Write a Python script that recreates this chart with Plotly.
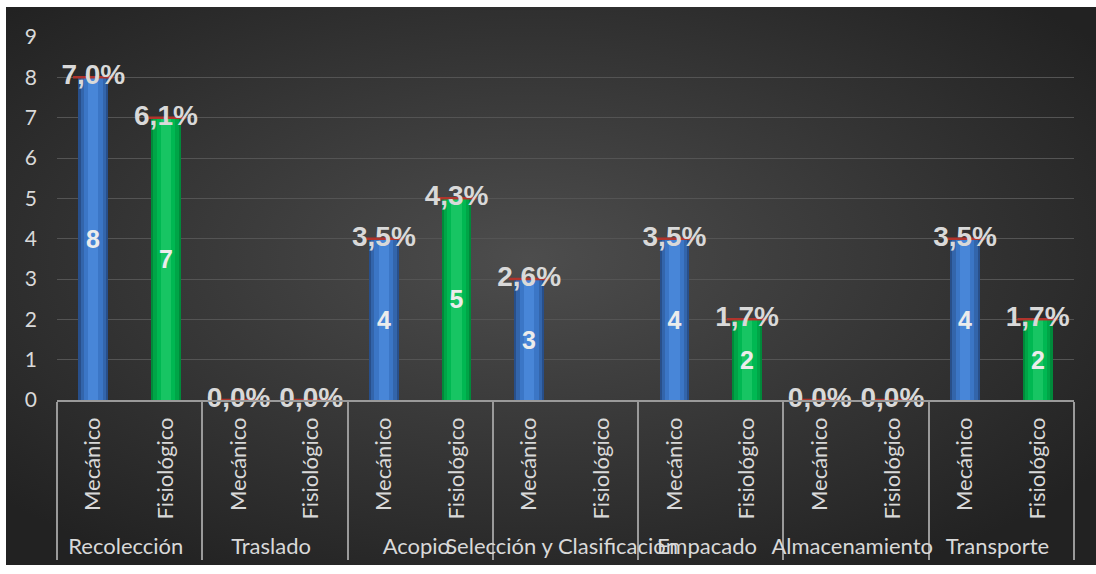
import base64
import plotly.graph_objects as go

# ---- data ----
etapas = ["Recolección", "Traslado", "Acopio", "Selección y Clasificación",
          "Empacado", "Almacenamiento", "Transporte"]
mecanico = [8, 0, 4, 3, 4, 0, 4]
fisiologico = [7, 0, 5, None, 2, 0, 2]
pct_mecanico = ["7,0%", "0,0%", "3,5%", "2,6%", "3,5%", "0,0%", "3,5%"]
pct_fisiologico = ["6,1%", "0,0%", "4,3%", "", "1,7%", "0,0%", "1,7%"]
y_ticks = list(range(0, 10))

W, H = 1096, 574
L, R, T, B = 57, 22, 37, 174
pw, ph = W - L - R, H - T - B
# dark panel inside a thin white frame
BX0, BY0, BX1, BY1 = 6, 7, 1096, 565

x_mec = [etapas, ["Mecánico"] * len(etapas)]
x_fis = [etapas, ["Fisiológico"] * len(etapas)]
n_cat = 2 * len(etapas)

fig = go.Figure()

# bars shaded in layers (dark edge -> light core) to give a cylinder look
blue_layers = [(0.41, "#284f8a"), (0.35, "#3365ab"), (0.26, "#3b76c6"), (0.14, "#4886d8")]
green_layers = [(0.41, "#008a3a"), (0.35, "#00a547"), (0.26, "#00b852"), (0.14, "#17c563")]

for xs, vals, layers in [(x_mec, mecanico, blue_layers), (x_fis, fisiologico, green_layers)]:
    for wdt, col in layers:
        fig.add_trace(go.Bar(x=xs, y=vals, width=wdt, marker=dict(color=col, line=dict(width=0)),
                             showlegend=False, hoverinfo="skip"))

# value labels inside bars
for xs, vals in [(x_mec, mecanico), (x_fis, fisiologico)]:
    fig.add_trace(go.Bar(
        x=xs, y=vals, width=0.41,
        marker=dict(color="rgba(0,0,0,0)", line=dict(width=0)),
        text=[str(v) if v else "" for v in vals],
        textposition="inside", insidetextanchor="middle", constraintext="none",
        textfont=dict(family="Liberation Sans, Arial", size=25, color="#ececec", weight="bold"),
        showlegend=False, hoverinfo="skip"))

# thin red cap on top of each bar
for xs, vals in [(x_mec, mecanico), (x_fis, fisiologico)]:
    fig.add_trace(go.Scatter(
        x=xs, y=vals, mode="markers",
        marker=dict(symbol="line-ew", size=29, line=dict(color="#b0342c", width=2.5)),
        showlegend=False, hoverinfo="skip"))

# percentage labels at bar tops
for xs, vals, labels in [(x_mec, mecanico, pct_mecanico), (x_fis, fisiologico, pct_fisiologico)]:
    fig.add_trace(go.Scatter(
        x=xs, y=vals, mode="text", text=labels, textposition="middle center",
        textfont=dict(family="Liberation Sans, Arial", size=28, color="#d9d9d9", weight="bold"),
        showlegend=False, hoverinfo="skip", cliponaxis=False))

# radial background panel
bw, bh = BX1 - BX0, BY1 - BY0
svg = f'''<svg xmlns="http://www.w3.org/2000/svg" width="{bw}" height="{bh}">
<defs><radialGradient id="g" cx="48%" cy="45%" r="65%">
<stop offset="0%" stop-color="#4d4d4d"/><stop offset="100%" stop-color="#222222"/>
</radialGradient></defs>
<rect width="{bw}" height="{bh}" fill="url(#g)"/></svg>'''
src = "data:image/svg+xml;base64," + base64.b64encode(svg.encode()).decode()
fig.add_layout_image(dict(source=src, xref="paper", yref="paper",
                          x=(BX0 - L) / pw, y=1 + (T - BY0) / ph, sizex=bw / pw, sizey=bh / ph,
                          xanchor="left", yanchor="top", sizing="stretch", layer="below"))

fig.update_layout(
    width=W, height=H,
    margin=dict(l=L, r=R, t=T, b=B),
    paper_bgcolor="#ffffff", plot_bgcolor="rgba(0,0,0,0)",
    barmode="overlay", bargap=0,
    font=dict(family="Lato, Noto Sans", color="#d9d9d9"),
)
fig.update_yaxes(range=[0, 9], tickvals=y_ticks, showgrid=True, gridcolor="#545454", gridwidth=1,
                 zeroline=False, tickfont=dict(size=21, color="#d9d9d9"), ticks="",
                 ticklabelstandoff=19)
fig.update_xaxes(type="multicategory", range=[-0.5, n_cat - 0.5], autorange=False,
                 tickangle=-90, showline=True, linecolor="#9a9a9a", linewidth=1.5,
                 showdividers=True, dividercolor="#9a9a9a", dividerwidth=1.5,
                 tickfont=dict(size=22, color="#d9d9d9"), showgrid=False,
                 ticklabelstandoff=7)

fig.write_html("out.html")
